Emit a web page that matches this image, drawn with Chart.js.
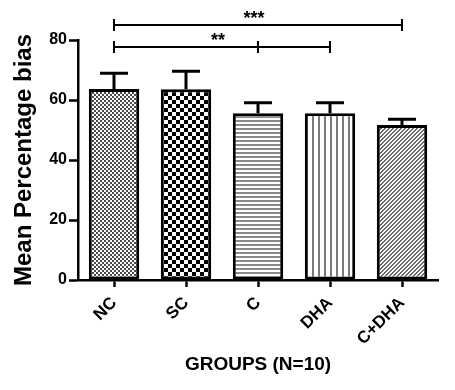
<!DOCTYPE html>
<html>
<head>
<meta charset="utf-8">
<title>Mean Percentage bias</title>
<script src="https://cdn.jsdelivr.net/npm/chart.js@4.4.1/dist/chart.umd.min.js"></script>
<style>
  html, body { margin: 0; padding: 0; background: #fff; }
  #wrap { width: 455px; height: 390px; }
</style>
</head>
<body>
<div id="wrap"><canvas id="bias-chart" width="455" height="390"></canvas></div>
<script>
// data
const groups = ['NC', 'SC', 'C', 'DHA', 'C+DHA'];
const means = [63.7, 63.6, 55.6, 55.6, 51.7];
const sem = [5.2, 6.0, 3.5, 3.5, 1.9];
const yTicks = [0, 20, 40, 60, 80];

// significance brackets (group indexes, level in y units)
const bracketFrom = [0, 0];
const bracketTo = [4, 3];
const bracketMid = [[], [2]];
const bracketLevel = [85, 77.7];
const bracketLabel = ['***', '**'];

const patternKinds = ['fineCheck', 'checker', 'hlines', 'vlines', 'diag'];

function makePattern(kind) {
  const c = document.createElement('canvas');
  const g = c.getContext('2d');
  if (kind === 'fineCheck') {
    c.width = 4; c.height = 4;
    g.fillStyle = '#fff'; g.fillRect(0, 0, 4, 4);
    g.fillStyle = '#4a4a4a';
    g.fillRect(0, 0, 2, 2); g.fillRect(2, 2, 2, 2);
  } else if (kind === 'checker') {
    c.width = 8; c.height = 8;
    g.fillStyle = '#fff'; g.fillRect(0, 0, 8, 8);
    g.fillStyle = '#000';
    g.fillRect(0, 0, 4, 4); g.fillRect(4, 4, 4, 4);
  } else if (kind === 'hlines') {
    c.width = 4; c.height = 4;
    g.fillStyle = '#fff'; g.fillRect(0, 0, 4, 4);
    g.fillStyle = '#8a8a8a'; g.fillRect(0, 0, 4, 2);
  } else if (kind === 'vlines') {
    c.width = 6; c.height = 6;
    g.fillStyle = '#fff'; g.fillRect(0, 0, 6, 6);
    g.fillStyle = '#7a7a7a'; g.fillRect(0, 0, 2, 6);
  } else {
    c.width = 4; c.height = 4;
    g.fillStyle = '#fff'; g.fillRect(0, 0, 4, 4);
    g.fillStyle = '#6a6a6a';
    for (let x = 0; x < 4; x++) {
      for (let y = 0; y < 4; y++) {
        if ((x + y) % 4 < 2) g.fillRect(x, y, 1, 1);
      }
    }
  }
  return g.createPattern(c, 'repeat');
}

// error bars (upper only) and significance brackets
const annotations = {
  id: 'annotations',
  afterDatasetsDraw(chart) {
    const ctx = chart.ctx;
    const xs = chart.scales.x;
    const ys = chart.scales.y;
    ctx.save();
    ctx.strokeStyle = '#000';
    ctx.lineCap = 'butt';

    ctx.lineWidth = 3;
    means.forEach((m, i) => {
      const x = xs.getPixelForValue(i);
      const y0 = ys.getPixelForValue(m);
      const y1 = ys.getPixelForValue(m + sem[i]);
      ctx.beginPath();
      ctx.moveTo(x, y0);
      ctx.lineTo(x, y1);
      ctx.moveTo(x - 14, y1);
      ctx.lineTo(x + 14, y1);
      ctx.stroke();
    });

    ctx.lineWidth = 2;
    ctx.fillStyle = '#000';
    ctx.font = "bold 18px 'Liberation Sans', Arial, sans-serif";
    ctx.textAlign = 'center';
    ctx.textBaseline = 'alphabetic';
    bracketLevel.forEach((lv, k) => {
      const y = ys.getPixelForValue(lv);
      const xa = xs.getPixelForValue(bracketFrom[k]);
      const xb = xs.getPixelForValue(bracketTo[k]);
      ctx.beginPath();
      ctx.moveTo(xa, y);
      ctx.lineTo(xb, y);
      [bracketFrom[k], bracketTo[k]].concat(bracketMid[k]).forEach((i) => {
        const xt = xs.getPixelForValue(i);
        ctx.moveTo(xt, y - 6);
        ctx.lineTo(xt, y + 6);
      });
      ctx.stroke();
      ctx.fillText(bracketLabel[k], (xa + xb) / 2 - 4, y - 1);
    });
    ctx.restore();
  },
};

function initBiasChart() {
  Chart.defaults.font.family = "'Liberation Sans', Arial, sans-serif";
  Chart.defaults.color = '#000';

  const ctx = document.getElementById('bias-chart');
  new Chart(ctx, {
    type: 'bar',
    data: {
      labels: groups,
      datasets: [
        {
          data: means,
          backgroundColor: patternKinds.map(makePattern),
          borderColor: '#000',
          borderWidth: 3,
          borderSkipped: false,
          categoryPercentage: 0.7,
          barPercentage: 1.0,
        },
      ],
    },
    options: {
      responsive: false,
      animation: false,
      layout: { padding: { top: 40, right: 17, bottom: 0, left: 0 } },
      plugins: {
        legend: { display: false },
        tooltip: { enabled: false },
      },
      scales: {
        y: {
          min: 0,
          max: 80,
          afterBuildTicks: (s) => { s.ticks = yTicks.map((v) => ({ value: v })); },
          afterFit: (s) => { s.width = 78; },
          ticks: { font: { size: 16, weight: 'bold' }, padding: 2, color: '#000' },
          grid: { drawOnChartArea: false, tickLength: 9, tickWidth: 2.5, tickColor: '#000' },
          border: { display: true, color: '#000', width: 2.5 },
          title: {
            display: true,
            text: 'Mean Percentage bias',
            font: { size: 24, weight: 'bold' },
            color: '#000',
            padding: { top: 10, bottom: 0 },
          },
        },
        x: {
          offset: true,
          afterFit: (s) => { s.height = 110; },
          ticks: { font: { size: 17, weight: 'bold' }, minRotation: 45, maxRotation: 45, padding: 6, color: '#000' },
          grid: { offset: false, drawOnChartArea: false, tickLength: 7, tickWidth: 2.5, tickColor: '#000' },
          border: { display: true, color: '#000', width: 2.5 },
          title: {
            display: true,
            text: 'GROUPS (N=10)',
            font: { size: 19, weight: 'bold' },
            color: '#000',
            padding: { top: 0, bottom: 14 },
          },
        },
      },
    },
    plugins: [annotations],
  });
}

window.addEventListener('load', initBiasChart);
</script>
</body>
</html>
